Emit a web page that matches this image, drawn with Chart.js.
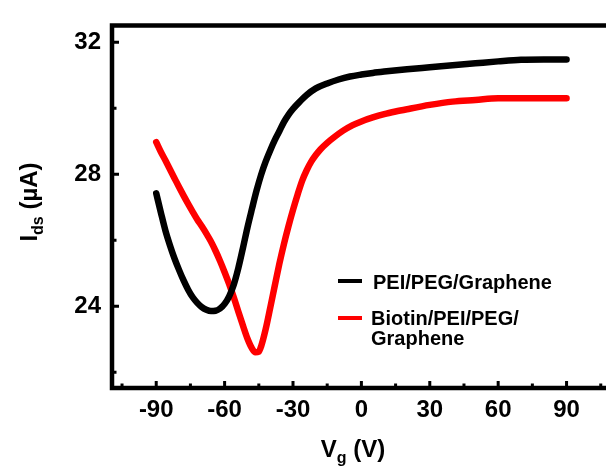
<!DOCTYPE html>
<html>
<head>
<meta charset="utf-8">
<script src="https://cdn.jsdelivr.net/npm/chart.js@4.4.1/dist/chart.umd.min.js"></script>
<style>
  html, body { margin: 0; padding: 0; background: #fff; }
</style>
</head>
<body>
<canvas id="chart" width="606" height="470"></canvas>
<script>
// ---- data ----
const blackVg  = [-90, -88, -86, -84, -82, -80, -78, -76, -74, -72, -70, -68, -66, -64, -62, -60, -58, -56, -54, -52, -50, -48, -46, -44, -42, -40, -38, -36, -34, -32, -30, -27, -24, -20, -15, -10, -5, 0, 5, 10, 20, 30, 40, 50, 60, 70, 80, 90];
const blackIds = [27.42, 26.85, 26.3, 25.85, 25.45, 25.1, 24.78, 24.5, 24.27, 24.1, 23.97, 23.89, 23.85, 23.86, 23.93, 24.07, 24.3, 24.65, 25.15, 25.75, 26.38, 26.95, 27.5, 27.98, 28.38, 28.72, 29.03, 29.3, 29.58, 29.8, 29.98, 30.2, 30.4, 30.6, 30.75, 30.87, 30.96, 31.02, 31.07, 31.11, 31.18, 31.24, 31.3, 31.36, 31.42, 31.47, 31.48, 31.48];

const redVg  = [-90, -88, -86, -84, -82, -80, -78, -76, -74, -72, -70, -68, -66, -64, -62, -60, -58, -56, -54, -52, -50, -48, -46.5, -45, -44, -42, -40, -38, -36, -34, -32, -30, -28, -26, -24, -22, -20, -18, -15, -12, -8, -4, 0, 5, 10, 15, 20, 30, 40, 50, 60, 70, 80, 90];
const redIds = [28.97, 28.68, 28.42, 28.15, 27.88, 27.61, 27.35, 27.1, 26.86, 26.63, 26.42, 26.2, 25.96, 25.68, 25.37, 25.03, 24.67, 24.27, 23.84, 23.42, 23.02, 22.72, 22.6, 22.62, 22.78, 23.3, 23.95, 24.62, 25.28, 25.88, 26.42, 26.92, 27.38, 27.8, 28.12, 28.38, 28.58, 28.75, 28.95, 29.12, 29.32, 29.48, 29.6, 29.72, 29.82, 29.9, 29.97, 30.1, 30.2, 30.25, 30.3, 30.3, 30.3, 30.3];

const seriesNames = [['PEI/PEG/Graphene'], ['Biotin/PEI/PEG/', 'Graphene']];
const seriesColors = ['#000000', '#ff0000'];

const xTickValues  = [-90, -60, -30, 0, 30, 60, 90];
const xMinorValues = [-105, -75, -45, -15, 15, 45, 75, 105];
const yTickValues  = [24, 28, 32];
const yMinorValues = [22, 26, 30];

const FONT = '"Liberation Sans", Arial, sans-serif';

function toPoints(xs, ys) {
  return xs.map((v, i) => ({ x: v, y: ys[i] }));
}

// axes frame, inward ticks, axis titles and legend
const decorations = {
  id: 'decorations',
  afterDraw(chart) {
    const { ctx, chartArea: a, scales: { x, y } } = chart;
    ctx.save();

    // frame (left, top, bottom; right side runs off the picture)
    ctx.strokeStyle = '#000';
    ctx.lineWidth = 4.5;
    ctx.lineCap = 'square';
    ctx.beginPath();
    ctx.moveTo(a.right + 5, a.top);
    ctx.lineTo(a.left, a.top);
    ctx.lineTo(a.left, a.bottom);
    ctx.lineTo(a.right + 5, a.bottom);
    ctx.stroke();

    // ticks pointing into the plot
    ctx.lineCap = 'butt';
    ctx.lineWidth = 3;
    ctx.beginPath();
    xTickValues.forEach(v => {
      const px = x.getPixelForValue(v);
      ctx.moveTo(px, a.bottom); ctx.lineTo(px, a.bottom - 7);
    });
    yTickValues.forEach(v => {
      const py = y.getPixelForValue(v);
      ctx.moveTo(a.left, py); ctx.lineTo(a.left + 7, py);
    });
    ctx.stroke();
    ctx.beginPath();
    xMinorValues.forEach(v => {
      const px = x.getPixelForValue(v);
      if (px > a.right) return;
      ctx.moveTo(px, a.bottom); ctx.lineTo(px, a.bottom - 4.5);
    });
    yMinorValues.forEach(v => {
      const py = y.getPixelForValue(v);
      ctx.moveTo(a.left, py); ctx.lineTo(a.left + 4.5, py);
    });
    ctx.stroke();

    ctx.fillStyle = '#000';
    ctx.textBaseline = 'alphabetic';

    // x title: V_g (V)
    const main = 'bold 24px ' + FONT, sub = 'bold 16px ' + FONT;
    ctx.font = main; const wV = ctx.measureText('V').width; const wRest = ctx.measureText(' (V)').width;
    ctx.font = sub; const wg = ctx.measureText('g').width;
    let sx = 353 - (wV + wg + wRest) / 2;
    const by = 457;
    ctx.font = main; ctx.fillText('V', sx, by); sx += wV;
    ctx.font = sub; ctx.fillText('g', sx, by + 6); sx += wg;
    ctx.font = main; ctx.fillText(' (V)', sx, by);

    // y title: I_ds (µA), rotated
    ctx.save();
    ctx.translate(37, 202);
    ctx.rotate(-Math.PI / 2);
    ctx.font = main; const wI = ctx.measureText('I').width; const wR = ctx.measureText(' (µA)').width;
    ctx.font = sub; const wds = ctx.measureText('ds').width;
    let tx = -(wI + wds + wR) / 2;
    ctx.font = main; ctx.fillText('I', tx, 0); tx += wI;
    ctx.font = sub; ctx.fillText('ds', tx, 6); tx += wds;
    ctx.font = main; ctx.fillText(' (µA)', tx, 0);
    ctx.restore();

    // legend
    const rows = [{ lineY: 281, textX: 373, baseY: 289 }, { lineY: 318, textX: 371, baseY: 325 }];
    ctx.font = 'bold 20px ' + FONT;
    chart.data.datasets.forEach((ds, i) => {
      const r = rows[i];
      ctx.strokeStyle = ds.borderColor;
      ctx.lineWidth = 4;
      ctx.beginPath();
      ctx.moveTo(338, r.lineY); ctx.lineTo(362, r.lineY);
      ctx.stroke();
      ctx.fillStyle = '#000';
      seriesNames[i].forEach((line, k) => ctx.fillText(line, r.textX, r.baseY + k * 20));
    });

    ctx.restore();
  }
};

new Chart(document.getElementById('chart'), {
  type: 'line',
  data: {
    datasets: [
      {
        label: seriesNames[0].join(''),
        data: toPoints(blackVg, blackIds),
        borderColor: seriesColors[0],
        borderWidth: 6.5,
        pointRadius: 0,
        cubicInterpolationMode: 'monotone',
        borderCapStyle: 'round',
        borderJoinStyle: 'round',
        fill: false
      },
      {
        label: seriesNames[1].join(''),
        data: toPoints(redVg, redIds),
        borderColor: seriesColors[1],
        borderWidth: 6.5,
        pointRadius: 0,
        cubicInterpolationMode: 'monotone',
        borderCapStyle: 'round',
        borderJoinStyle: 'round',
        fill: false
      }
    ]
  },
  options: {
    responsive: false,
    animation: false,
    layout: { padding: { top: 16, right: 0, left: 0, bottom: 0 } },
    plugins: { legend: { display: false }, tooltip: { enabled: false } },
    scales: {
      x: {
        type: 'linear',
        min: -109.4,
        max: 107.3,
        afterBuildTicks: s => { s.ticks = xTickValues.map(v => ({ value: v })); },
        afterFit: s => { s.height = 82; },
        grid: { display: false, drawTicks: false },
        border: { display: false },
        ticks: {
          color: '#000',
          padding: 8,
          maxRotation: 0,
          autoSkip: false,
          font: { family: FONT, size: 24, weight: 'bold' }
        }
      },
      y: {
        type: 'linear',
        min: 21.52,
        max: 32.51,
        afterBuildTicks: s => { s.ticks = yTickValues.map(v => ({ value: v })); },
        afterFit: s => { s.width = 112; },
        grid: { display: false, drawTicks: false },
        border: { display: false },
        ticks: {
          color: '#000',
          padding: 11,
          autoSkip: false,
          font: { family: FONT, size: 24, weight: 'bold' }
        }
      }
    }
  },
  plugins: [decorations]
});
</script>
</body>
</html>
